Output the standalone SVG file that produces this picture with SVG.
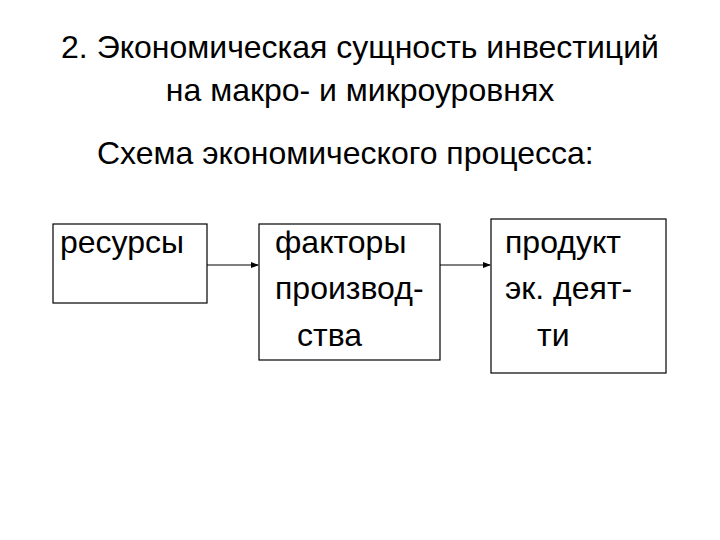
<svg xmlns="http://www.w3.org/2000/svg" width="720" height="540" viewBox="0 0 720 540">
<style>
text{font-family:"Liberation Sans",Arial,sans-serif;fill:#000}
.t{font-size:32px}
.b{font-size:32px}
.box{fill:none;stroke:#000;stroke-width:1.2}
.c{stroke:#000;stroke-width:1.2;fill:none;marker-end:url(#a)}
</style>
<defs><marker id="a" markerWidth="8" markerHeight="8" refX="7" refY="4" orient="auto" markerUnits="userSpaceOnUse"><path d="M0,1 L8,4 L0,7 Z" fill="#000"/></marker></defs>
<rect width="720" height="540" fill="#fff"/>
<text class="t" x="360" y="58" text-anchor="middle">2. Экономическая сущность инвестиций</text>
<text class="t" x="360" y="101" text-anchor="middle">на макро- и микроуровнях</text>
<text class="t" x="97" y="164">Схема экономического процесса:</text>
<g id="n1"><rect class="box" x="53" y="224" width="154" height="79"/><text class="b" x="60" y="253">ресурсы</text></g>
<g id="n2"><rect class="box" x="259" y="224" width="181" height="136"/><text class="b" x="275" y="253">факторы</text><text class="b" x="275" y="299">производ-</text><text class="b" x="297" y="346">ства</text></g>
<g id="n3"><rect class="box" x="491" y="219" width="175" height="154"/><text class="b" x="505" y="253">продукт</text><text class="b" x="505" y="299">эк. деят-</text><text class="b" x="537" y="346">ти</text></g>
<g id="edges"><line class="c" x1="207" y1="265" x2="258" y2="265"/><line class="c" x1="440" y1="265" x2="490" y2="265"/></g>
</svg>
